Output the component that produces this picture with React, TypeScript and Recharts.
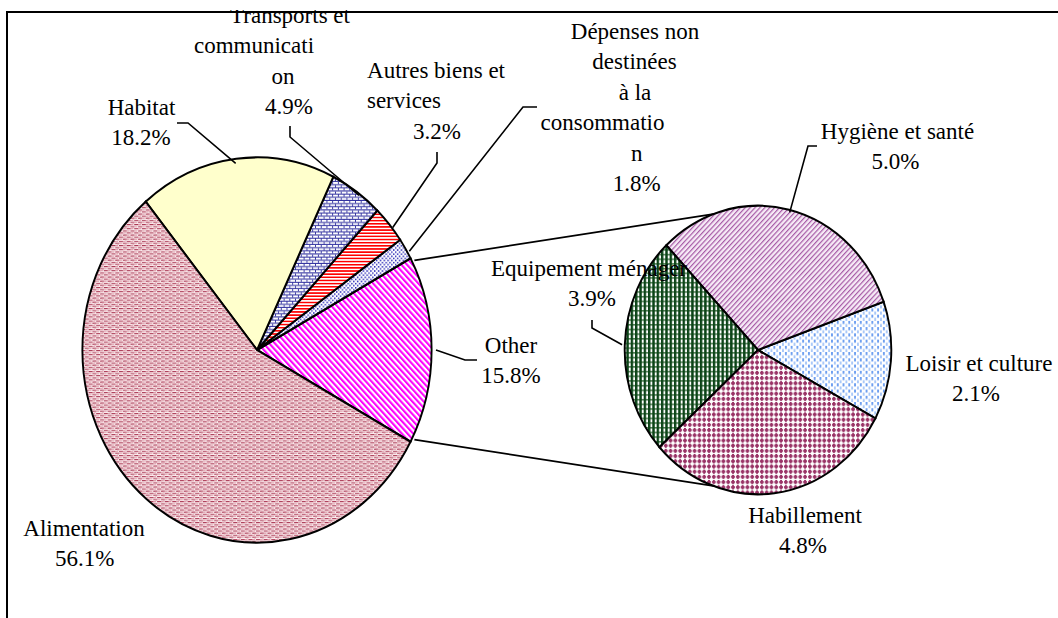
import React from 'react';
import { PieChart, Pie, Cell } from 'recharts';

// main pie, counter-clockwise from the "Other" slice
const mainNames = [
  'Other',
  'Dépenses non destinées à la consommation',
  'Autres biens et services',
  'Transports et communication',
  'Habitat',
  'Alimentation',
];
const mainValues = [15.8, 1.8, 3.2, 4.9, 18.2, 56.1];

// second pie (break-down of "Other")
const subNames = ['Loisir et culture', 'Hygiène et santé', 'Equipement ménager', 'Habillement'];
const subValues = [2.1, 5.0, 3.9, 4.8];

// how the labels wrap in the original
const wrapped: Record<string, string[]> = {
  'Dépenses non destinées à la consommation': ['Dépenses non', 'destinées', 'à la', 'consommatio', 'n'],
  'Autres biens et services': ['Autres biens et', 'services'],
  'Transports et communication': ['Transports et', 'communicati', 'on'],
};

const W = 1058;
const H = 608;
const TOP = 10; // chart sits 10px down the page, text above gets clipped
const FONT = "'Liberation Serif', 'Times New Roman', Times, Tinos, 'Noto Serif', 'DejaVu Serif', FreeSerif, serif";
const FS = 23;
const LH = 30.5;

const MAIN = { cx: 257, cy: 350 - TOP, rx: 179, ry: 188 };
const SUB = { cx: 758, cy: 350 - TOP, rx: 136, ry: 141.5 };
const SUB_START = -28.3;

const mainFills = ['url(#p-other)', 'url(#p-dep)', 'url(#p-autres)', 'url(#p-trans)', 'url(#p-habitat)', 'url(#p-alim)'];
const subFills = ['url(#p-loisir)', 'url(#p-hyg)', 'url(#p-equip)', 'url(#p-habil)'];

type LabelPos = { xs: number[]; y: number; leader?: [number, number][] };

// page coordinates: centre x of each line, centre y of first line, leader elbow
const mainLabelPos: LabelPos[] = [
  { xs: [511, 511], y: 345, leader: [[477, 360], [465, 360]] },
  { xs: [635, 634.5, 635, 602.5, 636.7, 636.7], y: 31, leader: [[537, 107], [523, 107]] },
  { xs: [436, 404, 437], y: 70, leader: [[437, 152], [437, 163]] },
  { xs: [290, 254, 283, 289], y: 15, leader: [[290, 126], [290, 137]] },
  { xs: [141.5, 141], y: 107, leader: [[177, 123], [188, 123]] },
  { xs: [84, 84.7], y: 528 },
];
const subLabelPos: LabelPos[] = [
  { xs: [979, 976], y: 363 },
  { xs: [897.5, 895.5], y: 131, leader: [[817, 146], [808, 146]] },
  { xs: [589, 592], y: 268, leader: [[592, 320], [592, 328]] },
  { xs: [805, 803], y: 515 },
];

const mainData = mainNames.map((name, i) => ({ name, value: mainValues[i] }));
const subData = subNames.map((name, i) => ({ name, value: subValues[i] }));

const total = (v: number[]) => v.reduce((a, b) => a + b, 0);
const MAIN_START = -(mainValues[0] / total(mainValues)) * 180;

type Geo = { cx: number; cy: number; rx: number; ry: number };
const onEdge = (g: Geo, deg: number): [number, number] => {
  const a = (deg * Math.PI) / 180;
  return [g.cx + g.rx * Math.cos(a), g.cy - g.ry * Math.sin(a)];
};

const midAngles = (vals: number[], start: number) => {
  const sum = total(vals);
  let acc = start;
  return vals.map((v) => {
    const span = (v / sum) * 360;
    const mid = acc + span / 2;
    acc += span;
    return mid;
  });
};

const ellipseCss = (cls: string, g: Geo) => {
  const r = (g.rx + g.ry) / 2;
  return `.${cls}{transform:translate(${g.cx}px,${g.cy}px) scale(${g.rx / r},${g.ry / r}) translate(${-g.cx}px,${-g.cy}px);}`;
};

function Labels({ names, values, pos, geo, start }: { names: string[]; values: number[]; pos: LabelPos[]; geo: Geo; start: number }) {
  const mids = midAngles(values, start);
  return (
    <g>
      {names.map((name, i) => {
        const p = pos[i];
        const lines = [...(wrapped[name] || [name]), `${values[i].toFixed(1)}%`];
        const leader = p.leader
          ? [...p.leader.map(([x, y]) => [x, y - TOP]), onEdge(geo, mids[i])]
          : null;
        return (
          <g key={name}>
            {leader && (
              <polyline
                points={leader.map((q) => q.join(',')).join(' ')}
                fill="none"
                stroke="#000"
                strokeWidth={1.6}
              />
            )}
            {lines.map((t, j) => (
              <text
                key={j}
                x={p.xs[j]}
                y={p.y - TOP + j * LH}
                textAnchor="middle"
                dominantBaseline="central"
                style={{ fontFamily: FONT, fontSize: FS, fill: '#000' }}
              >
                {t}
              </text>
            ))}
          </g>
        );
      })}
    </g>
  );
}

function Patterns() {
  return (
    <svg width={0} height={0} style={{ position: 'absolute' }}>
      <defs>
        <pattern id="p-habitat" width={4} height={4} patternUnits="userSpaceOnUse">
          <rect width={4} height={4} fill="#ffffcc" />
        </pattern>
        <pattern id="p-alim" width={8} height={4} patternUnits="userSpaceOnUse">
          <rect width={8} height={4} fill="#fbeef0" />
          <rect x={0} y={0} width={4} height={1} fill="#a83450" />
          <rect x={4} y={0} width={3} height={1} fill="#dc98a6" />
          <rect x={4} y={2} width={4} height={1} fill="#a83450" />
          <rect x={0} y={2} width={3} height={1} fill="#dc98a6" />
          <rect x={2} y={1} width={3} height={1} fill="#ecc4cc" />
          <rect x={6} y={3} width={2} height={1} fill="#ecc4cc" />
        </pattern>
        <pattern id="p-trans" width={6} height={6} patternUnits="userSpaceOnUse">
          <rect width={6} height={6} fill="#fff" />
          <rect x={0} y={2} width={6} height={1} fill="#3333a0" />
          <rect x={0} y={5} width={6} height={1} fill="#3333a0" />
          <rect x={0} y={0} width={1} height={2} fill="#3333a0" />
          <rect x={3} y={3} width={1} height={2} fill="#3333a0" />
        </pattern>
        <pattern id="p-autres" width={4} height={3} patternUnits="userSpaceOnUse">
          <rect width={4} height={3} fill="#fff" />
          <rect x={0} y={0} width={4} height={1.5} fill="#ff0000" />
        </pattern>
        <pattern id="p-dep" width={4} height={4} patternUnits="userSpaceOnUse">
          <rect width={4} height={4} fill="#fff" />
          <rect x={0} y={0} width={1.5} height={1.5} fill="#2b2bb8" />
          <rect x={2} y={2} width={1.5} height={1.5} fill="#2b2bb8" />
        </pattern>
        <pattern id="p-other" width={4.2} height={10} patternUnits="userSpaceOnUse" patternTransform="rotate(-45)">
          <rect width={4.2} height={10} fill="#fff" />
          <rect x={0} y={0} width={2.1} height={10} fill="#ff00ff" />
        </pattern>
        <pattern id="p-hyg" width={3.6} height={10} patternUnits="userSpaceOnUse" patternTransform="rotate(45)">
          <rect width={3.6} height={10} fill="#f6eaf6" />
          <rect x={0} y={0} width={1.2} height={10} fill="#a65aa6" />
        </pattern>
        <pattern id="p-loisir" width={6} height={6} patternUnits="userSpaceOnUse">
          <rect width={6} height={6} fill="#fff" />
          <rect x={0} y={0} width={2} height={3} fill="#6e9ff0" />
          <rect x={3} y={3} width={2} height={3} fill="#a9c8f8" />
        </pattern>
        <pattern id="p-habil" width={5} height={5} patternUnits="userSpaceOnUse">
          <rect width={5} height={5} fill="#fff" />
          <rect x={0} y={1} width={4} height={2} fill="#993366" />
          <rect x={1} y={0} width={2} height={4} fill="#993366" />
        </pattern>
        <pattern id="p-equip" width={4.5} height={4.5} patternUnits="userSpaceOnUse">
          <rect width={4.5} height={4.5} fill="#fff" />
          <rect x={0} y={0} width={4.5} height={1.5} fill="#4f7f52" />
          <rect x={0} y={0} width={2.5} height={4.5} fill="#0b4317" />
        </pattern>
      </defs>
    </svg>
  );
}

export default function App() {
  const mainR = (MAIN.rx + MAIN.ry) / 2;
  const subR = (SUB.rx + SUB.ry) / 2;
  const otherSpan = (mainValues[0] / total(mainValues)) * 360;
  const upA = onEdge(MAIN, MAIN_START + otherSpan);
  const loA = onEdge(MAIN, MAIN_START);
  const upB = onEdge(SUB, 96);
  const loB = onEdge(SUB, 264);

  return (
    <div style={{ position: 'absolute', left: 0, top: TOP, width: W, height: H, background: '#fff', fontFamily: FONT }}>
      <style>{ellipseCss('main-pie', MAIN) + ellipseCss('sub-pie', SUB)}</style>
      <Patterns />
      <PieChart width={W} height={H} margin={{ top: 0, right: 0, bottom: 0, left: 0 }}>
        <rect x={7} y={12 - TOP} width={1200} height={800} fill="none" stroke="#000" strokeWidth={2} />
        <line x1={upA[0]} y1={upA[1]} x2={upB[0]} y2={upB[1]} stroke="#000" strokeWidth={1.8} />
        <line x1={loA[0]} y1={loA[1]} x2={loB[0]} y2={loB[1]} stroke="#000" strokeWidth={1.8} />
        <Pie
          className="main-pie"
          data={mainData}
          dataKey="value"
          nameKey="name"
          cx={MAIN.cx}
          cy={MAIN.cy}
          outerRadius={mainR}
          startAngle={MAIN_START}
          endAngle={MAIN_START + 360}
          stroke="#000"
          strokeWidth={2}
          label={false}
          labelLine={false}
          isAnimationActive={false}
        >
          {mainData.map((d, i) => (
            <Cell key={d.name} fill={mainFills[i]} />
          ))}
        </Pie>
        <Pie
          className="sub-pie"
          data={subData}
          dataKey="value"
          nameKey="name"
          cx={SUB.cx}
          cy={SUB.cy}
          outerRadius={subR}
          startAngle={SUB_START}
          endAngle={SUB_START + 360}
          stroke="#000"
          strokeWidth={2}
          label={false}
          labelLine={false}
          isAnimationActive={false}
        >
          {subData.map((d, i) => (
            <Cell key={d.name} fill={subFills[i]} />
          ))}
        </Pie>
      </PieChart>
      {/* labels sit above the slices, like the data labels in the original */}
      <svg width={W} height={H} style={{ position: 'absolute', left: 0, top: 0, pointerEvents: 'none' }}>
        <Labels names={mainNames} values={mainValues} pos={mainLabelPos} geo={MAIN} start={MAIN_START} />
        <Labels names={subNames} values={subValues} pos={subLabelPos} geo={SUB} start={SUB_START} />
      </svg>
    </div>
  );
}
